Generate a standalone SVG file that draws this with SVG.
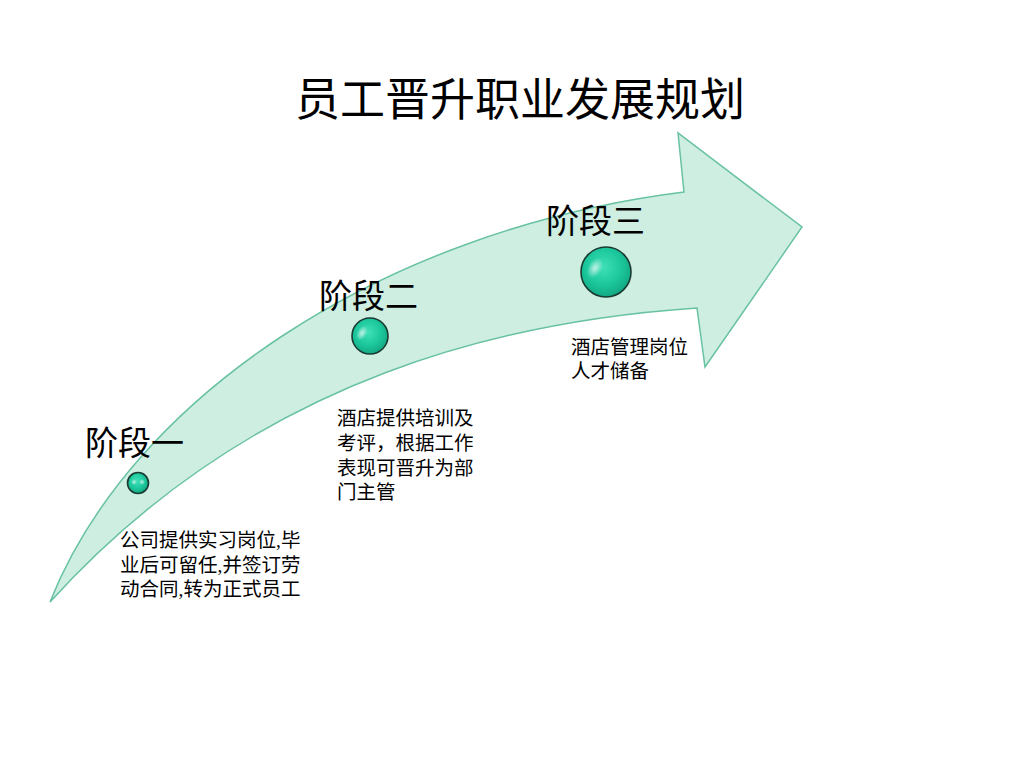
<svg xmlns="http://www.w3.org/2000/svg" width="1024" height="768" viewBox="0 0 1024 768">
<defs>
<radialGradient id="ball" cx="0.45" cy="0.4" r="0.6">
<stop offset="0" stop-color="#3fe0b8"/>
<stop offset="0.6" stop-color="#1cc79c"/>
<stop offset="1" stop-color="#12a883"/>
</radialGradient>
<radialGradient id="hl" cx="0.5" cy="0.5" r="0.5">
<stop offset="0" stop-color="#ffffff" stop-opacity="0.7"/>
<stop offset="1" stop-color="#ffffff" stop-opacity="0"/>
</radialGradient>
<style>
.arrow{fill:#cdeee0;stroke:#68c2a2;stroke-width:1.5;stroke-linejoin:miter}
.ball{fill:url(#ball);stroke:#1b3b32;stroke-width:1.6}
.stage{font-family:"Liberation Sans","Noto Sans CJK SC",sans-serif;font-size:33px;fill:#000}
.desc{font-family:"Liberation Serif","Noto Sans CJK SC",sans-serif;font-size:19.5px;fill:#000}
.title{font-family:"Liberation Serif","Noto Sans CJK SC",serif;font-size:45px;fill:#000}
</style>
</defs>
<rect width="1024" height="768" fill="#ffffff"/>
<text class="title" x="520" y="116" text-anchor="middle">员工晋升职业发展规划</text>
<g id="connectors">
<path id="arrow" class="arrow" d="M50,602 C130,400 380,230 684,192 L678,133 L802,227 L705,367 L697,308 C520,320 260,370 50,602 Z"/>
</g>
<g id="stage1">
<circle class="ball" cx="138" cy="483" r="10.5"/>
<ellipse cx="134" cy="482" rx="3" ry="3" fill="url(#hl)"/>
<ellipse cx="142" cy="482" rx="3" ry="3" fill="url(#hl)"/>
<text class="stage" x="85" y="455">阶段一</text>
<text class="desc" x="120" y="547">公司提供实习岗位,毕</text>
<text class="desc" x="120" y="572">业后可留任,并签订劳</text>
<text class="desc" x="120" y="596">动合同,转为正式员工</text>
</g>
<g id="stage2">
<circle class="ball" cx="370" cy="336" r="18"/>
<ellipse cx="362" cy="333" rx="5" ry="8" fill="url(#hl)" transform="rotate(30 362 333)"/>
<text class="stage" x="319" y="308">阶段二</text>
<text class="desc" x="337" y="425">酒店提供培训及</text>
<text class="desc" x="337" y="450">考评，根据工作</text>
<text class="desc" x="337" y="475">表现可晋升为部</text>
<text class="desc" x="337" y="499">门主管</text>
</g>
<g id="stage3">
<circle class="ball" cx="606" cy="272" r="25"/>
<ellipse cx="595" cy="268" rx="7" ry="11" fill="url(#hl)" transform="rotate(30 595 268)"/>
<text class="stage" x="546" y="233">阶段三</text>
<text class="desc" x="571" y="354">酒店管理岗位</text>
<text class="desc" x="571" y="378">人才储备</text>
</g>
</svg>
